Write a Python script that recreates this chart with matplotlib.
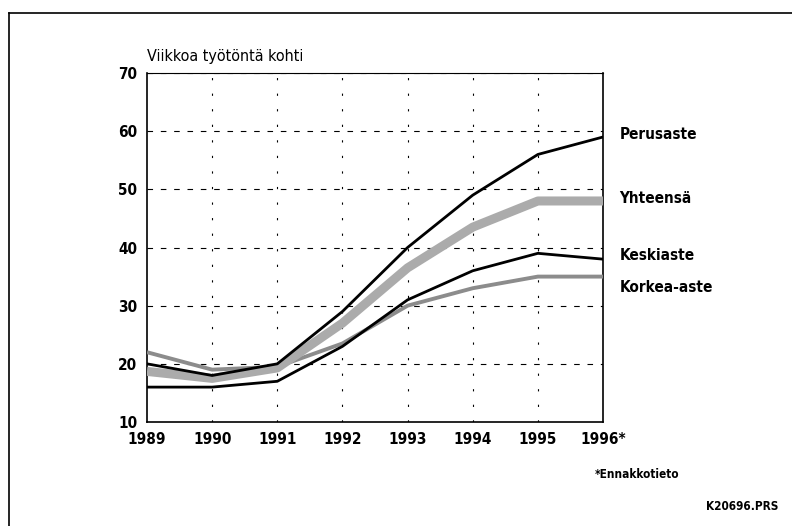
import matplotlib.pyplot as plt
from matplotlib.lines import Line2D

plt.rcParams['font.family'] = ['DejaVu Sans']
plt.rcParams['font.stretch'] = 'condensed'

# Data
years = [1989, 1990, 1991, 1992, 1993, 1994, 1995, 1996]
year_labels = ["1989", "1990", "1991", "1992", "1993", "1994", "1995", "1996*"]
perusaste = [20, 18, 20, 29, 40, 49, 56, 59]
yhteensa = [18.7, 17.5, 19.3, 27, 36.5, 43.5, 48, 48]
keskiaste = [16, 16, 17, 23, 31, 36, 39, 38]
korkea_aste = [22, 19, 19.5, 23.5, 30, 33, 35, 35]
series_names = ["Perusaste", "Yhteensä", "Keskiaste", "Korkea-aste"]
label_y = [59.5, 48.5, 38.7, 33.2]

fig = plt.figure(figsize=(7.92, 5.26), dpi=100)
ax = fig.add_axes([0.1856, 0.1977, 0.5758, 0.6635])

# grid
for yv in [20, 30, 40, 50, 60, 70]:
    ax.axhline(yv, color="black", lw=0.8, ls=(0, (5, 7)), zorder=1)
for xv in years[1:-1]:
    ax.axvline(xv, color="black", lw=0.8, ls=(0, (2, 12)), zorder=1)

ax.plot(years, korkea_aste, color="#8c8c8c", lw=2.8, zorder=3, solid_capstyle="butt")
ax.plot(years, yhteensa, color="#ababab", lw=6.5, zorder=3, solid_capstyle="butt")
ax.plot(years, keskiaste, color="black", lw=2.0, zorder=4)
ax.plot(years, perusaste, color="black", lw=2.0, zorder=4)

for name, yv in zip(series_names, label_y):
    ax.text(1996.25, yv, name, fontsize=11, fontweight="bold", va="center", ha="left")

ax.set_xlim(1989, 1996)
ax.set_ylim(10, 70)
ax.set_xticks(years)
ax.set_xticklabels(year_labels)
ax.set_yticks([10, 20, 30, 40, 50, 60, 70])
ax.tick_params(length=0, labelsize=11, pad=7)
for lab in ax.get_xticklabels() + ax.get_yticklabels():
    lab.set_fontweight("bold")
for sp in ax.spines.values():
    sp.set_linewidth(1.2)
ax.spines["top"].set_linewidth(0.8)

ax.text(0.0, 1.025, "Viikkoa työtöntä kohti", transform=ax.transAxes,
        fontsize=11.5, ha="left", va="bottom")
fig.text(595 / 792, 1 - 475 / 526, "*Ennakkotieto", fontsize=8.5,
         fontweight="bold", ha="left", va="center")
fig.text(778 / 792, 1 - 506 / 526, "K20696.PRS", fontsize=8.5,
         fontweight="bold", ha="right", va="center")

# outer frame
fig.add_artist(Line2D([9 / 792, 9 / 792], [0, 1 - 13 / 526], color="black", lw=1.2))
fig.add_artist(Line2D([9 / 792, 1], [1 - 13 / 526, 1 - 13 / 526], color="black", lw=1.2))

fig.savefig("out.png", dpi=100)
